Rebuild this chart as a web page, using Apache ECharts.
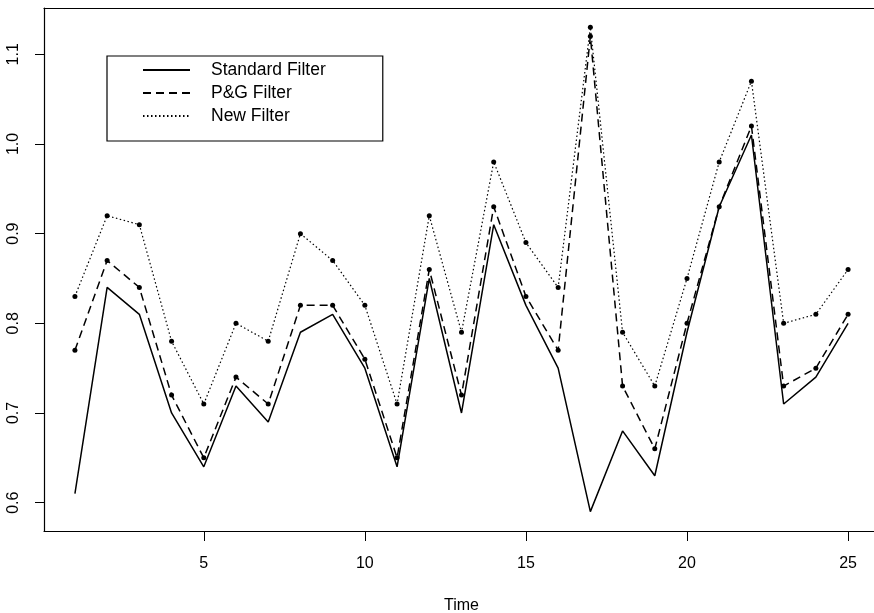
<!DOCTYPE html>
<html>
<head>
<meta charset="utf-8">
<style>
  html, body { margin: 0; padding: 0; background: #fff; }
  #chart { width: 874px; height: 613px; }
</style>
<script src="https://cdn.jsdelivr.net/npm/echarts@6/dist/echarts.min.js"></script>
</head>
<body>
<div id="chart"></div>
<script>
const timeValues = [1,2,3,4,5,6,7,8,9,10,11,12,13,14,15,16,17,18,19,20,21,22,23,24,25];
const standardFilter = [0.61,0.84,0.81,0.70,0.64,0.73,0.69,0.79,0.81,0.75,0.64,0.85,0.70,0.91,0.82,0.75,0.59,0.68,0.63,0.79,0.93,1.01,0.71,0.74,0.80];
const pgFilter =       [0.77,0.87,0.84,0.72,0.65,0.74,0.71,0.82,0.82,0.76,0.65,0.86,0.72,0.93,0.83,0.77,1.12,0.73,0.66,0.80,0.93,1.02,0.73,0.75,0.81];
const newFilter =      [0.83,0.92,0.91,0.78,0.71,0.80,0.78,0.90,0.87,0.82,0.71,0.92,0.79,0.98,0.89,0.84,1.13,0.79,0.73,0.85,0.98,1.07,0.80,0.81,0.86];
const xTicks = [5,10,15,20,25];
const yTicks = [0.6,0.7,0.8,0.9,1.0,1.1];
const seriesNames = ['Standard Filter','P&G Filter','New Filter'];

const pair = arr => timeValues.map((t, i) => [t, arr[i]]);
const FONT = '"Liberation Sans", Arial, Helvetica, sans-serif';

const chart = echarts.init(document.getElementById('chart'), null, { renderer: 'canvas' });
chart.setOption({
  animation: false,
  backgroundColor: '#ffffff',
  grid: {
    left: 44, top: 8, bottom: 82, width: 835,
    outerBoundsMode: 'none', containLabel: false,
    show: false
  },
  legend: {
    orient: 'vertical',
    left: 107, top: 56,
    padding: [5, 57, 16, 35],
    itemWidth: 47, itemHeight: 14, itemGap: 5,
    borderColor: '#000', borderWidth: 1.2, backgroundColor: '#fff',
    itemStyle: { opacity: 0 },
    textStyle: { fontFamily: FONT, fontSize: 17.5, color: '#000', padding: [0, 0, 0, 16] },
    data: seriesNames
  },
  xAxis: [{
    type: 'value', min: 0.04, max: 25.96, position: 'bottom',
    name: 'Time', nameLocation: 'middle', nameGap: 67,
    nameTextStyle: { fontFamily: FONT, fontSize: 16, color: '#000' },
    axisLine: { show: true, onZero: false, lineStyle: { color: '#000', width: 1.2 } },
    splitLine: { show: false },
    axisTick: { show: true, inside: false, length: 10, customValues: xTicks, lineStyle: { color: '#000', width: 1 } },
    axisLabel: { customValues: xTicks, margin: 25, fontFamily: FONT, fontSize: 16, color: '#000' }
  }, {
    type: 'value', min: 0.04, max: 25.96, position: 'top',
    axisLine: { show: true, onZero: false, lineStyle: { color: '#000', width: 1.2 } },
    splitLine: { show: false }, axisTick: { show: false }, axisLabel: { show: false }
  }],
  yAxis: {
    type: 'value', min: 0.5684, max: 1.1516,
    axisLine: { show: true, onZero: false, lineStyle: { color: '#000', width: 1.2 } },
    splitLine: { show: false },
    axisTick: { show: true, inside: false, length: 9, customValues: yTicks, lineStyle: { color: '#000', width: 1 } },
    axisLabel: { customValues: yTicks, rotate: 90, margin: 22, fontFamily: FONT, fontSize: 16, color: '#000',
      formatter: v => v.toFixed(1) }
  },
  series: [
    {
      name: seriesNames[0], type: 'line', data: pair(standardFilter),
      symbol: 'none', lineStyle: { color: '#000', width: 1.5, type: 'solid' },
      itemStyle: { color: '#000' }
    },
    {
      name: seriesNames[1], type: 'line', data: pair(pgFilter),
      symbol: 'circle', symbolSize: 5,
      lineStyle: { color: '#000', width: 1.5, type: [8, 5] },
      itemStyle: { color: '#000' }
    },
    {
      name: seriesNames[2], type: 'line', data: pair(newFilter),
      symbol: 'circle', symbolSize: 5,
      lineStyle: { color: '#000', width: 1.2, type: [1.5, 2.5] },
      itemStyle: { color: '#000' }
    }
  ]
});
</script>
</body>
</html>
